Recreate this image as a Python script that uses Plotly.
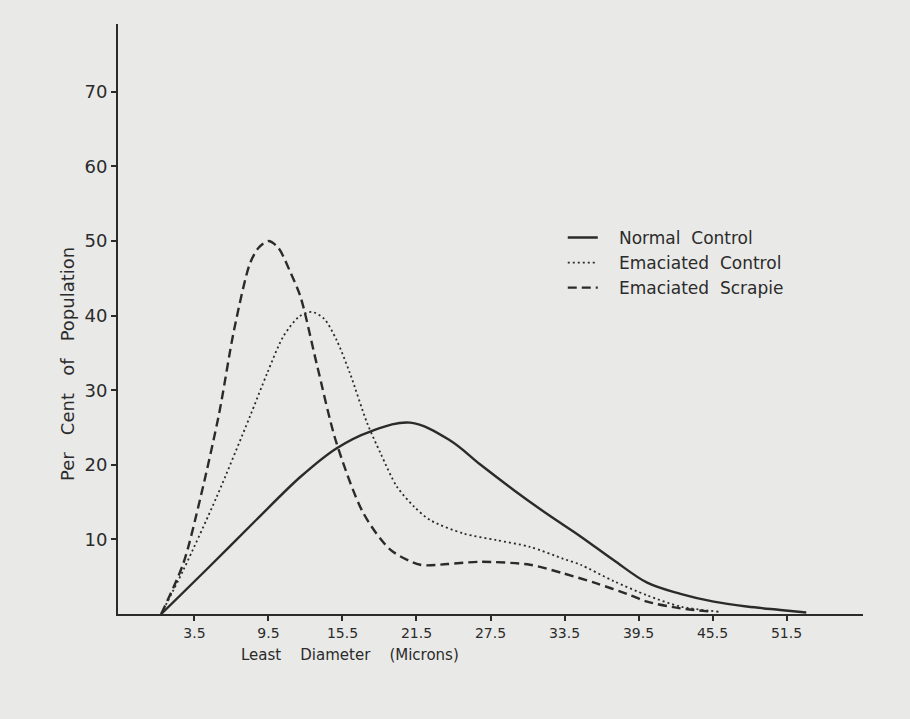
import plotly.graph_objects as go

# ---- data ----
normal_x = [0.8, 4.5, 8.5, 12.1, 15.0, 17.8, 21.0, 24.2, 26.7, 29.4, 32.1, 34.8, 37.5, 40.2, 42.9, 45.6, 48.3, 51.0, 53.1]
normal_y = [0.0, 6.0, 12.6, 18.4, 22.2, 24.5, 25.65, 23.3, 20.0, 16.6, 13.4, 10.4, 7.2, 4.2, 2.7, 1.65, 1.0, 0.54, 0.2]

emac_ctrl_x = [0.8, 2.6, 5.3, 8.0, 9.4, 10.7, 12.0, 13.0, 14.0, 15.0, 16.1, 17.5, 18.6, 19.9, 21.3, 22.6, 25.3, 28.0, 30.7, 33.4, 34.8, 37.5, 40.2, 42.9, 46.0]
emac_ctrl_y = [0.0, 5.9, 15.7, 26.5, 32.3, 37.2, 39.9, 40.5, 39.6, 36.8, 32.3, 25.6, 21.5, 17.1, 14.4, 12.6, 10.8, 9.9, 9.0, 7.4, 6.6, 4.4, 2.5, 1.0, 0.3]

emac_scr_x = [0.8, 2.6, 4.0, 5.5, 6.7, 8.0, 8.7, 9.5, 10.3, 11.2, 12.1, 13.4, 15.0, 17.2, 19.4, 21.8, 24.0, 26.7, 30.7, 33.4, 36.1, 38.8, 40.2, 42.9, 45.5]
emac_scr_y = [0.0, 6.8, 15.7, 26.9, 38.0, 47.0, 49.1, 50.0, 49.1, 46.1, 42.5, 33.6, 23.0, 13.5, 8.6, 6.6, 6.7, 7.0, 6.6, 5.45, 4.1, 2.55, 1.65, 0.76, 0.3]

series_names = ["Normal\u00a0\u00a0Control", "Emaciated\u00a0\u00a0Control", "Emaciated\u00a0\u00a0Scrapie"]

x_tickvals = [3.5, 9.5, 15.5, 21.5, 27.5, 33.5, 39.5, 45.5, 51.5]
x_ticktext = ["3.5", "9.5", "15.5", "21.5", "27.5", "33.5", "39.5", "45.5", "51.5"]
y_tickvals = [10, 20, 30, 40, 50, 60, 70]

x_title = "Least\u00a0\u00a0\u00a0\u00a0Diameter\u00a0\u00a0\u00a0\u00a0(Microns)"
y_title = "Per\u00a0\u00a0\u00a0Cent\u00a0\u00a0\u00a0of\u00a0\u00a0\u00a0Population"

# ---- style ----
INK = "#2b2b2b"
BG = "#e9e9e7"
FONT = "DejaVu Sans"
pad = "\u00a0\u00a0\u00a0"

fig = go.Figure()
fig.add_trace(go.Scatter(x=normal_x, y=normal_y, mode="lines", name=pad + series_names[0],
                         line=dict(color=INK, width=2.4, shape="spline", smoothing=1.0)))
fig.add_trace(go.Scatter(x=emac_ctrl_x, y=emac_ctrl_y, mode="lines", name=pad + series_names[1],
                         line=dict(color=INK, width=1.8, dash="2px,3px", shape="spline", smoothing=0.8)))
fig.add_trace(go.Scatter(x=emac_scr_x, y=emac_scr_y, mode="lines", name=pad + series_names[2],
                         line=dict(color=INK, width=2.4, dash="9px,5px", shape="spline", smoothing=0.8)))

fig.update_layout(
    width=910, height=719,
    margin=dict(l=118, r=47, t=24, b=105),
    paper_bgcolor=BG, plot_bgcolor=BG,
    font=dict(family=FONT, color=INK),
    showlegend=True,
    hovermode=False,
    legend=dict(x=0.597, y=0.668, xanchor="left", yanchor="top",
                bgcolor="rgba(0,0,0,0)", font=dict(size=17, family=FONT, color=INK),
                itemwidth=30, tracegroupgap=0),
    xaxis=dict(range=[-2.7, 57.7], showline=True, linecolor=INK, linewidth=2,
               showgrid=False, zeroline=False, ticks="outside", ticklen=5, tickwidth=1.5,
               tickcolor=INK, tickvals=x_tickvals, ticktext=x_ticktext,
               tickfont=dict(size=14, family=FONT, color=INK)),
    yaxis=dict(range=[0, 79.1], showline=True, linecolor=INK, linewidth=2,
               showgrid=False, zeroline=False, ticks="outside", ticklen=5, tickwidth=1.5,
               tickcolor=INK, tickvals=y_tickvals,
               tickfont=dict(size=18, family=FONT, color=INK)),
    annotations=[
        dict(text=x_title, xref="paper", yref="paper", x=(350 - 118) / 745, y=(614 - 655) / 590,
             xanchor="center", yanchor="middle", showarrow=False,
             font=dict(size=15, family=FONT, color=INK)),
        dict(text=y_title, xref="paper", yref="paper", x=(67 - 118) / 745, y=(614 - 364) / 590,
             xanchor="center", yanchor="middle", showarrow=False, textangle=-90,
             font=dict(size=18, family=FONT, color=INK)),
    ],
)

fig.write_html("out.html", config={"displayModeBar": False},
               post_script="document.body.style.margin='0';document.body.style.background='%s';" % BG)
